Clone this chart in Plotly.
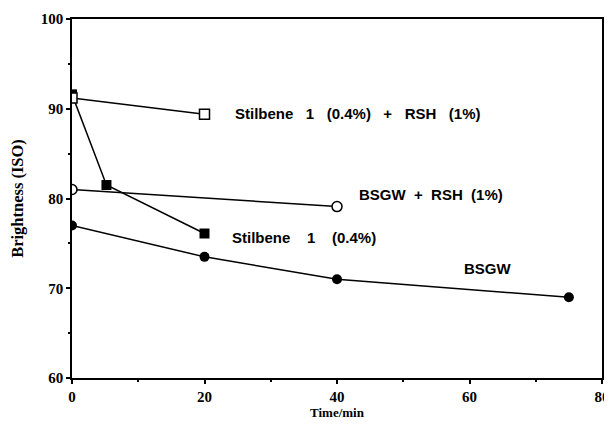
import plotly.graph_objects as go

# Data
bsgw_t = [0, 20, 40, 75]
bsgw_b = [77, 73.5, 71, 69]
bsgw_rsh_t = [0, 40]
bsgw_rsh_b = [81, 79.1]
stil_t = [0, 5.2, 20]
stil_b = [91.6, 81.5, 76.1]
stil_rsh_t = [0, 20]
stil_rsh_b = [91.2, 89.4]

G = "\u00a0 \u00a0 "
G1 = "\u00a0 \u00a0"
labels = ["Stilbene" + G1 + "1" + G1 + "(0.4%)" + G1 + "+" + G1 + "RSH" + G1 + "(1%)",
          "BSGW\u00a0 +\u00a0 RSH\u00a0 (1%)",
          "Stilbene" + G + "1" + G + "(0.4%)", "BSGW"]
label_x = [24.3, 43.0, 23.8, 58.9]
label_y = [89.45, 80.5, 75.6, 72.2]

fig = go.Figure()
line = dict(color="black", width=1.5)
fig.add_trace(go.Scatter(x=bsgw_t, y=bsgw_b, mode="lines+markers", line=line,
                         marker=dict(symbol="circle", size=10, color="black")))
fig.add_trace(go.Scatter(x=bsgw_rsh_t, y=bsgw_rsh_b, mode="lines+markers", line=line,
                         marker=dict(symbol="circle", size=10, color="white",
                                     line=dict(color="black", width=1.5))))
fig.add_trace(go.Scatter(x=stil_t, y=stil_b, mode="lines+markers", line=line,
                         marker=dict(symbol="square", size=10, color="black")))
fig.add_trace(go.Scatter(x=stil_rsh_t, y=stil_rsh_b, mode="lines+markers", line=line,
                         marker=dict(symbol="square", size=10, color="white",
                                     line=dict(color="black", width=1.5))))

for t, x, y in zip(labels, label_x, label_y):
    fig.add_annotation(x=x, y=y, text=t, showarrow=False, xanchor="left", yanchor="middle",
                       font=dict(family="Liberation Sans", size=15, color="black", weight="bold"))

tickfont = dict(family="Liberation Serif", size=15, color="black", weight="bold")
fig.update_xaxes(range=[0, 80], tickvals=[0, 20, 40, 60, 80], ticks="outside", ticklen=4,
                 tickwidth=1.5, tickcolor="black", showline=True, linecolor="black", linewidth=1.5,
                 mirror=True, showgrid=False, zeroline=False, tickfont=tickfont, automargin=False,
                 minor=dict(tickvals=[10, 30, 50, 70], ticks="outside", ticklen=2, tickcolor="black"),
                 title=dict(text="Time/min", font=dict(family="Liberation Serif", size=13,
                                                        color="black", weight="bold"), standoff=3))
fig.update_yaxes(range=[60, 100], tickvals=[60, 70, 80, 90, 100], ticks="outside", ticklen=4,
                 tickwidth=1.5, tickcolor="black", showline=True, linecolor="black", linewidth=1.5,
                 mirror=True, showgrid=False, zeroline=False, tickfont=tickfont, automargin=False,
                 minor=dict(tickvals=[65, 75, 85, 95], ticks="outside", ticklen=2, tickcolor="black"),
                 title=dict(text="Brightness (ISO)", font=dict(family="Liberation Serif", size=16.5,
                                                               color="black", weight="bold"), standoff=13))
fig.update_layout(width=604, height=425, margin=dict(l=64, r=10, t=11, b=55),
                  paper_bgcolor="white", plot_bgcolor="white", showlegend=False)
fig.write_html("out.html")
